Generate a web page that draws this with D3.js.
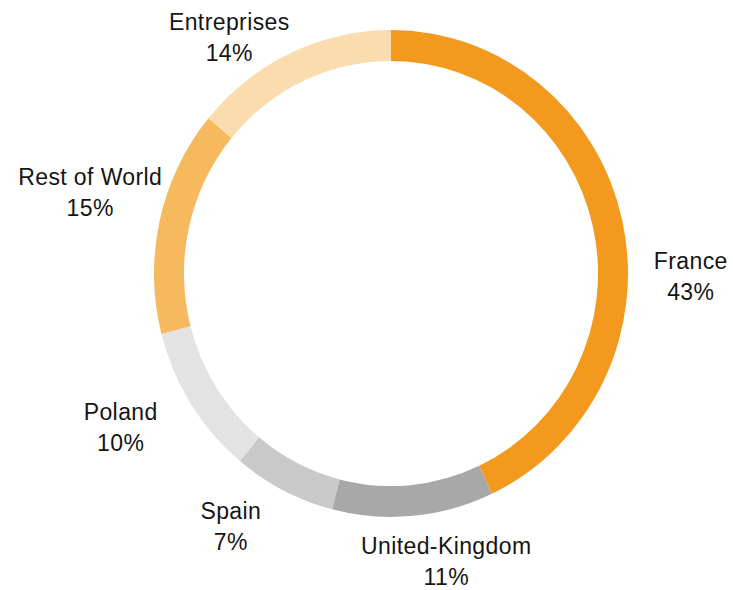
<!DOCTYPE html>
<html>
<head>
<meta charset="utf-8">
<script src="https://cdn.jsdelivr.net/npm/d3@7"></script>
<style>
  body { margin: 0; background: #fff; }
  svg { display: block; }
</style>
</head>
<body>
<svg width="733" height="590"></svg>
<script>
// data
const categories = ["France", "United-Kingdom", "Spain", "Poland", "Rest of World", "Entreprises"];
const shares = [43, 11, 7, 10, 15, 14];
const colors = ["#f39a1e", "#a8a8a8", "#c9c9c9", "#e3e3e3", "#f6b95e", "#fbdcae"];

// label nudges from the arc centroid (layout only)
const labelNudge = {
    "France": [7, 68],
    "United-Kingdom": [27, -11],
    "Spain": [-24, -14],
    "Poland": [-17, -7],
    "Rest of World": [-8, -16],
    "Entreprises": [-34, 35]
};

const svg = d3.select("svg"),
    width = +svg.attr("width"),
    height = +svg.attr("height");

const cx = 391, cy = 273.5;
const outerR = 237, innerR = 207, squash = 1.027;

const rows = categories.map((c, i) => ({ name: c, value: shares[i], color: colors[i] }));

const pie = d3.pie()
    .sort(null)
    .value(d => d.value);

const arc = d3.arc()
    .innerRadius(innerR)
    .outerRadius(outerR);

const labelArc = d3.arc()
    .innerRadius(300)
    .outerRadius(300);

const arcs = pie(rows);

// ring
svg.append("g")
    .attr("transform", `translate(${cx},${cy}) scale(1,${squash})`)
    .selectAll("path")
    .data(arcs)
    .enter()
    .append("path")
    .attr("d", arc)
    .attr("fill", d => d.data.color);

// labels
const labels = svg.append("g")
    .attr("transform", `translate(${cx},${cy})`)
    .selectAll("g")
    .data(arcs)
    .enter()
    .append("g")
    .attr("transform", d => {
        const c = labelArc.centroid(d);
        const n = labelNudge[d.data.name];
        return `translate(${c[0] + n[0]},${c[1] + n[1]})`;
    })
    .style("font-family", "'Liberation Sans', Arial, sans-serif")
    .style("font-size", "23px")
    .style("letter-spacing", "0.4px")
    .attr("fill", "#151515")
    .attr("text-anchor", "middle");

labels.append("text")
    .attr("y", -7.5)
    .text(d => d.data.name);

labels.append("text")
    .attr("y", 23.5)
    .text(d => d.data.value + "%");
</script>
</body>
</html>
